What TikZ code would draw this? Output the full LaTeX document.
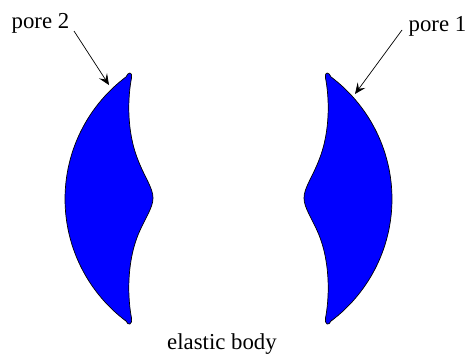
\documentclass[tikz,border=0pt]{standalone}
\usepackage{fontspec}
\setmainfont{Liberation Serif}
\usetikzlibrary{arrows.meta}
\tikzset{
  poreshape/.style={fill={rgb,255:red,0;green,0;blue,255}, draw=black, line width=0.7bp},
  lbl/.style={inner sep=0pt, font=\fontsize{22.8bp}{27bp}\selectfont},
  pointer/.style={line width=0.7bp, -{Stealth[length=11bp,width=9.5bp,inset=4.5bp]}}
}
\newcommand\poreoutline{%
  (131.5,78) .. controls (128,96) and (126,130) .. (138,160)
  .. controls (145,178) and (153,188) .. (153,198)
  .. controls (153,208) and (145,218) .. (138,235)
  .. controls (126,265) and (128,300) .. (131.5,318)
  .. controls (132.5,325) and (128,326) .. (126,321)
  -- plot[domain=126.9:233.1, samples=60] ({217.7+152.7*cos(\x)},{199+152.7*sin(\x)})
  .. controls (128,72) and (132.5,71) .. (131.5,78) -- cycle}
\begin{document}
\begin{tikzpicture}[x=1bp, y=-1bp]
\useasboundingbox (0,0) rectangle (467,357);
% left pore
\filldraw[poreshape] \poreoutline;
% right pore (mirror)
\begin{scope}[shift={(457,0)}, xscale=-1]
\filldraw[poreshape] \poreoutline;
\end{scope}
% labels
\node[lbl, anchor=base west] (pore2) at (11.5,28) {pore 2};
\node[lbl, anchor=base east] (pore1) at (466.5,31) {pore 1};
\node[lbl, anchor=base] (body) at (222,349) {elastic body};
% pointers
\coordinate (p2s) at (74,31);
\coordinate (p2t) at (109,85);
\coordinate (p1s) at (402,30);
\coordinate (p1t) at (355,94);
\draw[pointer] (p2s) -- (p2t);
\draw[pointer] (p1s) -- (p1t);
\end{tikzpicture}
\end{document}
